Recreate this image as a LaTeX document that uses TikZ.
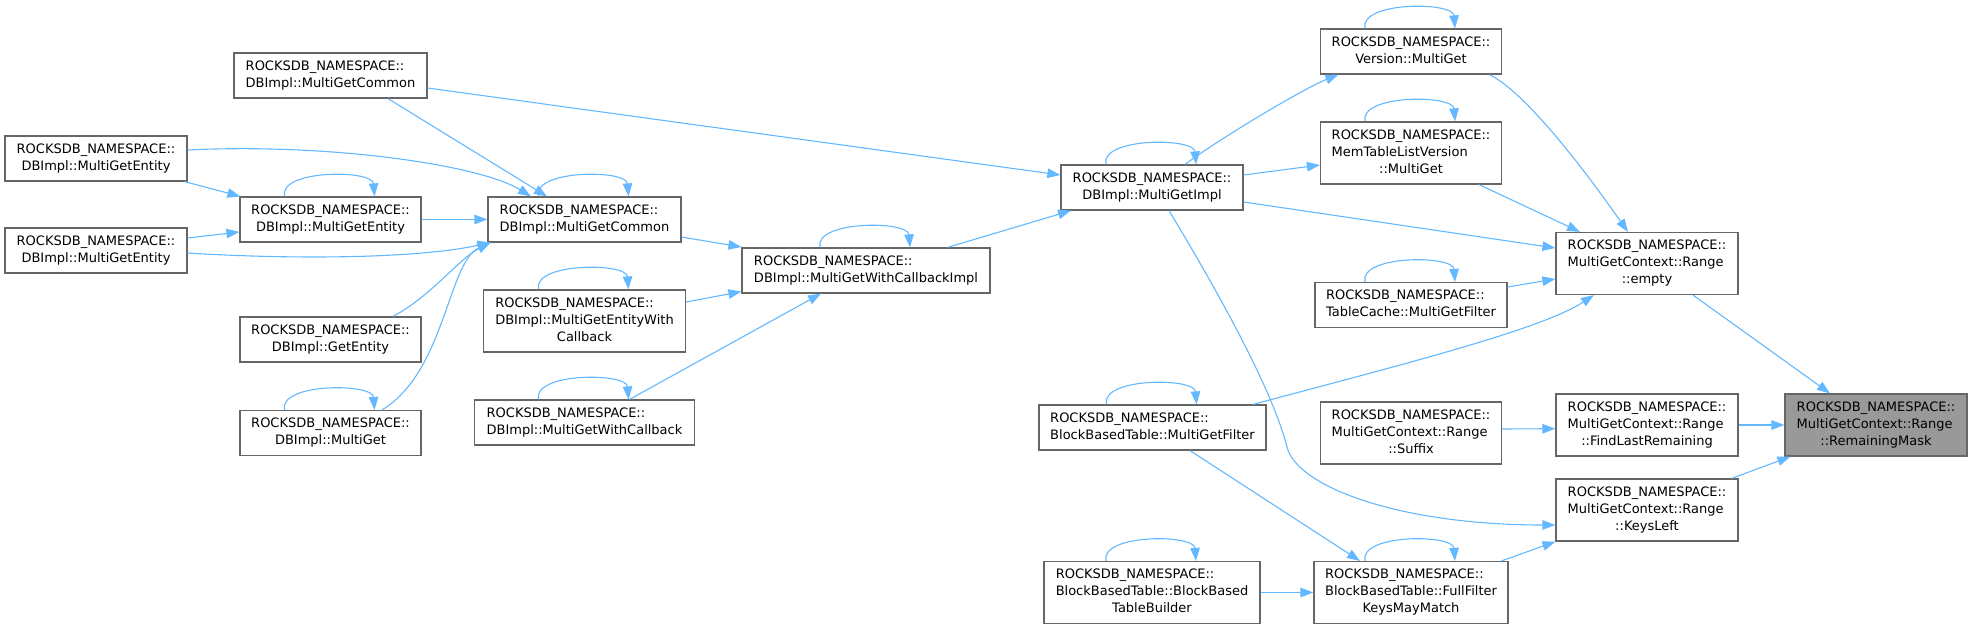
\documentclass[tikz,border=0pt]{standalone}
\usepackage{fontspec}
\setmainfont{DejaVu Sans}
\usetikzlibrary{arrows.meta,calc}
\definecolor{edgeblue}{HTML}{63B8FF}
\definecolor{bordergray}{HTML}{666666}
\definecolor{selgray}{HTML}{999999}
\newcommand{\twol}[2]{\begin{tabular}{@{}l@{}}#1\\\multicolumn{1}{@{}c@{}}{#2}\end{tabular}}
\newcommand{\threel}[3]{\begin{tabular}{@{}l@{}}#1\\#2\\\multicolumn{1}{@{}c@{}}{#3}\end{tabular}}
\newcommand{\rns}{ROCKSDB\_NAMESPACE::}
\newcommand{\selfloop}[1]{\draw[conn] ([xshift=-46pt]#1.north) .. controls +(-6pt,27pt) and +(-2pt,27pt) .. ([xshift=44pt]#1.north);}
\begin{document}
\begin{tikzpicture}[x=1pt,y=-1pt,
  nbox/.style={draw=bordergray, fill=white, line width=1.2pt, inner sep=0pt, minimum height=45pt, font=\fontsize{13}{17}\selectfont},
  tall/.style={minimum height=62pt},
  sel/.style={fill=selgray},
  conn/.style={draw=edgeblue, line width=1.1pt, -{Triangle[length=13pt,width=9.5pt]}}]
\useasboundingbox (0,0) rectangle (1972,629);
% nodes
\node[nbox, minimum width=193pt] (mgcTop) at (330.5,75.5) {\twol{\rns}{DBImpl::MultiGetCommon}};
\node[nbox, minimum width=182pt] (mgeL1) at (96,158.5) {\twol{\rns}{DBImpl::MultiGetEntity}};
\node[nbox, minimum width=181pt] (mgeMid) at (330.5,219.5) {\twol{\rns}{DBImpl::MultiGetEntity}};
\node[nbox, minimum width=182pt] (mgeL2) at (96,250.5) {\twol{\rns}{DBImpl::MultiGetEntity}};
\node[nbox, minimum width=193pt] (mgcMain) at (584.5,219.5) {\twol{\rns}{DBImpl::MultiGetCommon}};
\node[nbox, minimum width=181pt] (getEntity) at (330.5,339.5) {\twol{\rns}{DBImpl::GetEntity}};
\node[nbox, minimum width=181pt] (multiGet) at (330.5,433) {\twol{\rns}{DBImpl::MultiGet}};
\node[nbox, minimum width=248pt] (mgwcImpl) at (866,270.5) {\twol{\rns}{DBImpl::MultiGetWithCallbackImpl}};
\node[nbox, tall, minimum width=202pt] (mgeWC) at (584.5,321) {\threel{\rns}{DBImpl::MultiGetEntityWith}{Callback}};
\node[nbox, minimum width=220pt] (mgWC) at (584.5,422.5) {\twol{\rns}{DBImpl::MultiGetWithCallback}};
\node[nbox, minimum width=182pt] (mgImpl) at (1152,187.5) {\twol{\rns}{DBImpl::MultiGetImpl}};
\node[nbox, minimum width=181pt] (version) at (1411,51.5) {\twol{\rns}{Version::MultiGet}};
\node[nbox, tall, minimum width=181pt] (memTable) at (1411,153) {\threel{\rns}{MemTableListVersion}{::MultiGet}};
\node[nbox, minimum width=192pt] (tableCache) at (1411,305) {\twol{\rns}{TableCache::MultiGetFilter}};
\node[nbox, minimum width=227pt] (bbtMGF) at (1152.5,427.5) {\twol{\rns}{BlockBasedTable::MultiGetFilter}};
\node[nbox, tall, minimum width=181pt] (suffix) at (1411,433) {\threel{\rns}{MultiGetContext::Range}{::Suffix}};
\node[nbox, tall, minimum width=216pt] (bbtBuilder) at (1152,592.5) {\threel{\rns}{BlockBasedTable::BlockBased}{TableBuilder}};
\node[nbox, tall, minimum width=194pt] (fullFilter) at (1411,592.5) {\threel{\rns}{BlockBasedTable::FullFilter}{KeysMayMatch}};
\node[nbox, tall, minimum width=182pt] (empty) at (1647,263.5) {\threel{\rns}{MultiGetContext::Range}{::empty}};
\node[nbox, tall, minimum width=182pt] (findLast) at (1647,425) {\threel{\rns}{MultiGetContext::Range}{::FindLastRemaining}};
\node[nbox, tall, minimum width=182pt] (keysLeft) at (1647,510) {\threel{\rns}{MultiGetContext::Range}{::KeysLeft}};
\node[nbox, tall, sel, minimum width=182pt] (remMask) at (1876,425) {\threel{\rns}{MultiGetContext::Range}{::RemainingMask}};
% connectors
\draw[conn] ([yshift=-12.5pt]mgcTop.east) -- ([yshift=12.5pt]mgImpl.west);
\draw[conn] ([xshift=57.5pt]mgcTop.south) -- ([xshift=-37.5pt]mgcMain.north);
\draw[conn] ([yshift=8.5pt]mgeL1.east) .. controls (330,143) and (480,165) .. ([xshift=-53.5pt]mgcMain.north);
\draw[conn] ([xshift=-3pt]mgeL1.south east) -- ([xshift=1pt]mgeMid.north west);
\draw[conn] ([yshift=12.5pt]mgeL2.east) -- ([yshift=-12.5pt]mgeMid.west);
\draw[conn] (mgeMid.east) -- (mgcMain.west);
\draw[conn] ([yshift=-2.5pt]mgeL2.east) .. controls (300,260) and (420,258) .. ([xshift=3pt]mgcMain.south west);
\draw[conn] ([xshift=62.5pt]getEntity.north) .. controls (430,297) and (460,258) .. ([xshift=3pt]mgcMain.south west);
\draw[conn] ([xshift=51.5pt]multiGet.north) .. controls (445,372) and (448,262) .. ([xshift=3pt]mgcMain.south west);
\draw[conn] ([yshift=-17.5pt]mgcMain.east) -- ([yshift=23.5pt]mgwcImpl.west);
\draw[conn] ([yshift=19pt]mgeWC.east) -- ([yshift=2pt]mgwcImpl.south west);
\draw[conn] ([xshift=45pt]mgWC.north) -- ([xshift=-45pt]mgwcImpl.south);
\draw[conn] ([xshift=-43pt]mgwcImpl.north east) -- ([xshift=10.6pt]mgImpl.south west);
\draw[conn] ([xshift=33pt]mgImpl.north) .. controls (1225,135) and (1305,88) .. ([xshift=18.5pt]version.south west);
\draw[conn] ([yshift=12.5pt]mgImpl.east) -- ([yshift=-12pt]memTable.west);
\draw[conn] ([yshift=-14.5pt]mgImpl.east) -- ([yshift=15.5pt]empty.west);
\draw[conn] ([xshift=17pt]mgImpl.south) .. controls (1235,320) and (1275,400) .. (1287,447) .. controls (1297,487) and (1400,525) .. ([yshift=-15pt]keysLeft.west);
\draw[conn] ([xshift=-13.5pt]bbtMGF.north east) .. controls (1400,365) and (1540,330) .. ([xshift=-53pt]empty.south);
\draw[conn] ([xshift=37.5pt]bbtMGF.south) -- ([xshift=-51pt]fullFilter.north);
\draw[conn] (bbtBuilder.east) -- (fullFilter.west);
\draw[conn] ([yshift=18pt]tableCache.east) -- ([yshift=-15.5pt]empty.west);
\draw[conn] ([xshift=-12.5pt]version.south east) .. controls (1530,95) and (1595,185) .. ([xshift=-19pt]empty.north);
\draw[conn] ([xshift=68pt]memTable.south) -- ([xshift=-67pt]empty.north);
\draw[conn] ([xshift=46pt]empty.south) -- ([xshift=-46pt]remMask.north);
\draw[conn] ([yshift=4pt]suffix.east) -- ([yshift=-3.7pt]findLast.west);
\draw[conn] (findLast.east) -- (remMask.west);
\draw[conn] ([xshift=-7pt]keysLeft.north east) -- ([xshift=6pt]remMask.south west);
\draw[conn] ([xshift=-7pt]fullFilter.north east) -- (keysLeft.south west);
% self loops
\selfloop{mgeMid}
\selfloop{mgcMain}
\selfloop{mgeWC}
\selfloop{mgWC}
\selfloop{multiGet}
\selfloop{mgwcImpl}
\selfloop{mgImpl}
\selfloop{version}
\selfloop{memTable}
\selfloop{tableCache}
\selfloop{bbtMGF}
\selfloop{bbtBuilder}
\selfloop{fullFilter}
\end{tikzpicture}
\end{document}
